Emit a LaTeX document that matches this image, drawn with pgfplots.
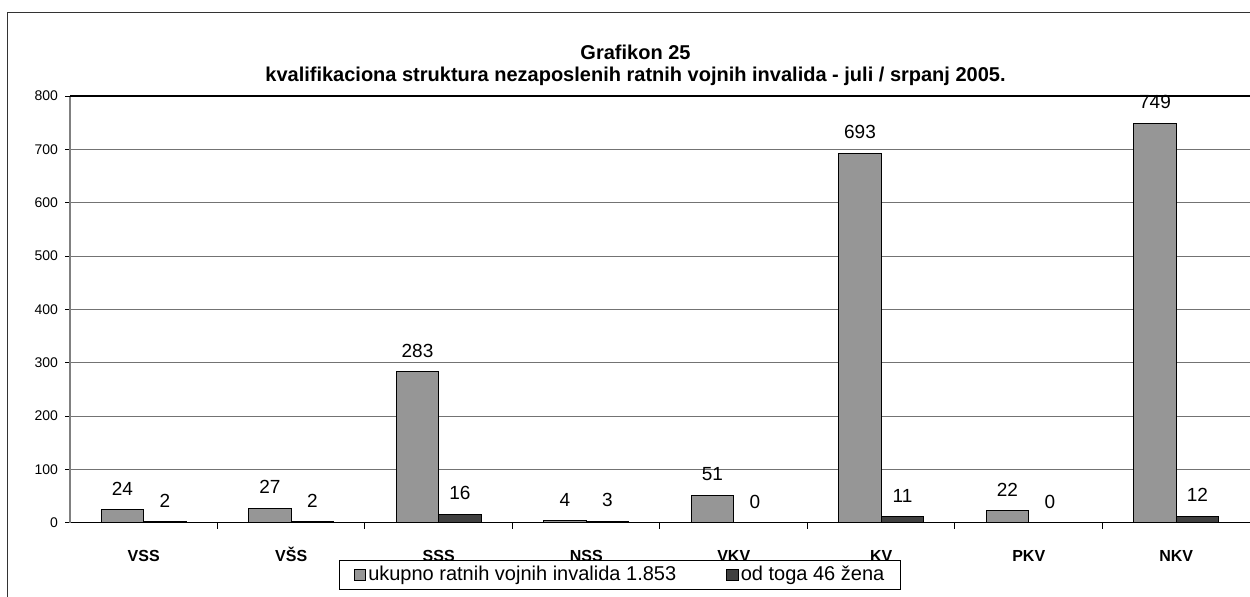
\documentclass[border=0pt]{standalone}
\usepackage{pgfplots}
\pgfplotsset{compat=1.18}
\usepackage{fontspec}
\setmainfont{Liberation Sans}
\definecolor{barA}{HTML}{969696}
\definecolor{barB}{HTML}{404040}
\begin{document}
\begin{tikzpicture}
\useasboundingbox (0pt,0pt) rectangle (625pt,-298pt);
\draw[line width=0.7pt, black!80] (3.65pt,-300pt) -- (3.65pt,-6.15pt) -- (630pt,-6.15pt);
\node[font=\fontsize{10}{12}\selectfont\bfseries, anchor=base] at (317.75pt,-29.5pt) {Grafikon 25};
\node[font=\fontsize{10}{12}\selectfont\bfseries, anchor=base] at (317.75pt,-40.5pt) {kvalifikaciona struktura nezaposlenih ratnih vojnih invalida - juli / srpanj 2005.};
\begin{axis}[
  at={(35pt,-261.35pt)}, anchor=south west,
  scale only axis, width=590pt, height=213.35pt,
  xmin=0, xmax=8, ymin=0, ymax=800,
  axis lines*=left,
  x axis line style={black, line width=0.6pt},
  y axis line style={black!50, line width=0.6pt},
  /pgf/number format/assume math mode=true,
  ytick={0,100,...,700},
  extra y ticks={800},
  extra y tick style={grid style={black, line width=0.6pt}},
  yticklabel style={font=\fontsize{7}{8}\selectfont},
  xtick={0.5,1.5,...,7.5},
  xticklabels={VSS,VŠS,SSS,NSS,VKV,KV,PKV,NKV},
  xticklabel style={font=\fontsize{8}{9}\selectfont\bfseries, anchor=base, inner sep=0pt, yshift=-17pt},
  major x tick style={draw=none},
  minor xtick={1,...,7},
  tick align=outside,
  major tick length=2.5pt, minor tick length=3pt,
  tick style={black, line width=0.5pt},
  ymajorgrids, grid style={black!55, line width=0.5pt},
  ybar=0pt, bar width=21.25pt,
  nodes near coords,
  every node near coord/.append style={font=\fontsize{9.5}{10}\selectfont, inner sep=0pt, yshift=7pt, text=black},
  legend columns=2,
  legend style={at={(0.4661,-0.0865)}, anchor=north, draw=black, line width=0.5pt,
    inner xsep=7pt, inner ysep=1pt,
    font=\fontsize{10}{12}\selectfont,
    nodes={inner xsep=1pt},
    /tikz/every even column/.append style={column sep=24pt}},
  legend image code/.code={\draw[#1, line width=0.5pt] (0pt,-2.9pt) rectangle (5.8pt,2.9pt);},
]
\addplot[fill=barA, draw=black, line width=0.5pt] coordinates {(0.5,24) (1.5,27) (2.5,283) (3.5,4) (4.5,51) (5.5,693) (6.5,22) (7.5,749)};
\addplot[fill=barB, draw=black, line width=0.5pt] coordinates {(0.5,2) (1.5,2) (2.5,16) (3.5,3) (4.5,0) (5.5,11) (6.5,0) (7.5,12)};
\legend{ukupno ratnih vojnih invalida 1.853, od toga 46 žena}
\end{axis}
\end{tikzpicture}
\end{document}
